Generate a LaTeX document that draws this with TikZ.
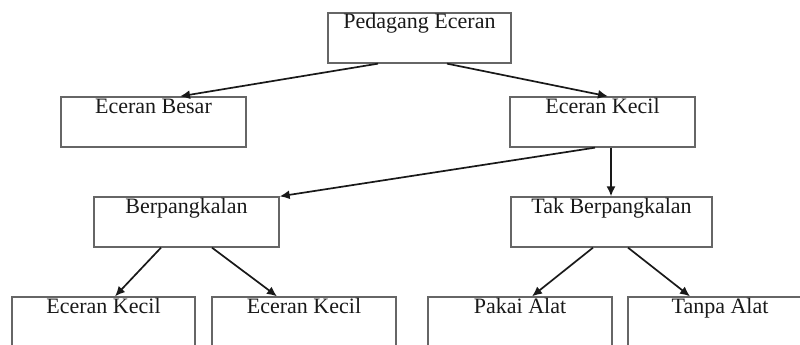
\documentclass[tikz,border=0pt]{standalone}
\usepackage{fontspec}
\setmainfont{Liberation Serif}
\usetikzlibrary{arrows.meta}
\begin{document}
\begin{tikzpicture}[x=1pt,y=-1pt,
  box/.style={draw=black!60, line width=1.3pt, rectangle, inner sep=0pt,
    text height=16pt, text depth=34pt, text=black!90,
    font=\fontsize{22}{26}\selectfont},
  conn/.style={line width=1.7pt, black!90, -{Latex[length=10pt,width=9pt]}}]
\useasboundingbox (0,0) rectangle (800,345);
\clip (0,0) rectangle (800,345);
\node[box, minimum width=183pt] (P) at (419.5,38) {Pedagang Eceran};
\node[box, minimum width=185pt] (EB) at (153.5,122) {Eceran Besar};
\node[box, minimum width=185pt] (EK) at (602.5,122) {Eceran Kecil};
\node[box, minimum width=185pt] (BP) at (186.5,222) {Berpangkalan};
\node[box, minimum width=201pt] (TB) at (611.5,222) {Tak Berpangkalan};
\node[box, minimum width=183pt] (B1) at (103.5,322) {Eceran Kecil};
\node[box, minimum width=184pt] (B2) at (304,322) {Eceran Kecil};
\node[box, minimum width=184pt] (B3) at (520,322) {Pakai Alat};
\node[box, minimum width=184pt] (B4) at (720,322) {Tanpa Alat};
\draw[conn] ([xshift=-41.5pt]P.south) -- ([xshift=26.5pt]EB.north);
\draw[conn] ([xshift=27.5pt]P.south) -- ([xshift=5.5pt]EK.north);
\draw[conn] ([xshift=-7.5pt]EK.south) -- (BP.north east);
\draw[conn] ([xshift=8.5pt]EK.south) -- ([xshift=-0.5pt]TB.north);
\draw[conn] ([xshift=-25.5pt]BP.south) -- ([xshift=11.5pt]B1.north);
\draw[conn] ([xshift=25.5pt]BP.south) -- ([xshift=-27pt]B2.north);
\draw[conn] ([xshift=-18.5pt]TB.south) -- ([xshift=12pt]B3.north);
\draw[conn] ([xshift=16.5pt]TB.south) -- ([xshift=-30pt]B4.north);
\end{tikzpicture}
\end{document}
